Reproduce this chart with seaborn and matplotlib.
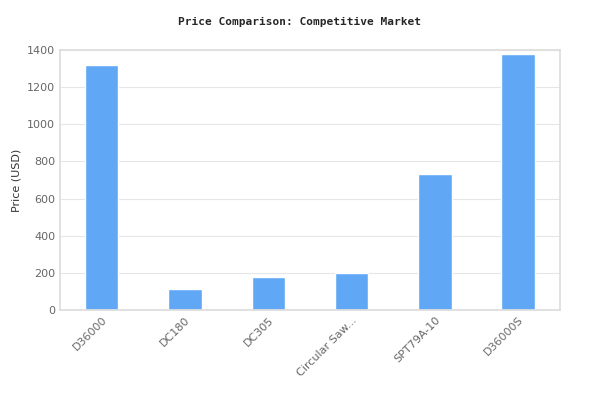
import matplotlib
matplotlib.use("Agg")
import matplotlib.pyplot as plt
import seaborn as sns
import pandas as pd

categories = ["D36000", "DC180", "DC305", "Circular Saw...", "SPT79A-10", "D36000S"]
prices = [1320, 115, 180, 200, 730, 1380]

sns.set_theme(style="white")
plt.rcParams['font.family'] = ['DejaVu Sans']
fig, ax = plt.subplots(figsize=(6, 4.2), dpi=100)
fig.subplots_adjust(left=0.1, right=0.933, top=0.881, bottom=0.262)
df = pd.DataFrame({"cat": categories, "price": prices})
sns.barplot(data=df, x="cat", y="price", color="#60a8f5", saturation=1, width=0.4, ax=ax)
ax.set_ylim(0, 1400)
ax.set_yticks(range(0, 1401, 200))
ax.yaxis.grid(True, color="#e6e6e6", linewidth=0.8)
ax.set_axisbelow(True)
for s in ax.spines.values():
    s.set_color("#dddddd")
ax.set_xlabel("")
ax.set_ylabel("Price (USD)", fontsize=8, color="#333333")
ax.tick_params(axis="both", labelsize=8, colors="#666666", length=0)
plt.setp(ax.get_xticklabels(), rotation=45, ha="right", rotation_mode="anchor")
fig.suptitle("Price Comparison: Competitive Market", fontsize=8, fontweight="bold",
             family="DejaVu Sans Mono", y=0.96)
fig.savefig("out.png")
